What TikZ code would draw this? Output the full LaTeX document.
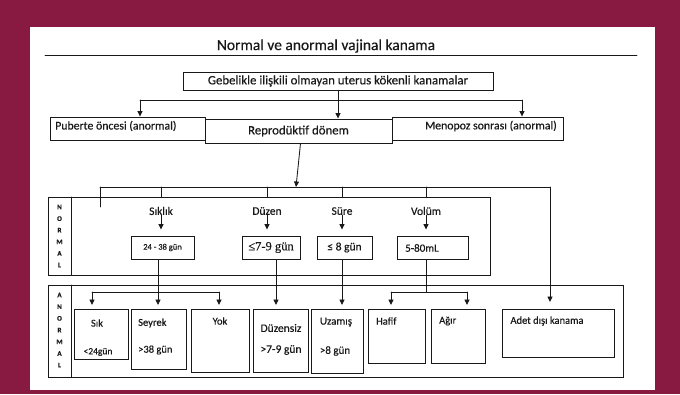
\documentclass[tikz,border=0pt]{standalone}
\usepackage{fontspec}
\setmainfont{Carlito}[FakeBold=0.35]
\newfontfamily\serifrm{Liberation Serif}[FakeBold=0.3]
\usetikzlibrary{arrows.meta,calc}

\definecolor{maroon}{RGB}{136,26,66}
\definecolor{ink}{RGB}{25,25,25}

\begin{document}
\begin{tikzpicture}[x=1pt, y=-1pt, line cap=round,
    box/.style={draw=ink, line width=0.9pt, inner sep=0pt, text=ink},
    txt/.style={text=ink, inner sep=0pt, font=\fontsize{10.5}{12}\selectfont},
    ln/.style={draw=ink, line width=0.85pt},
    arr/.style={ln, -{Triangle[length=5.5pt,width=5pt]}},
    vlet/.style={text=ink, inner sep=0pt, font=\fontsize{7}{8}\selectfont\bfseries}]

  \useasboundingbox (0,0) rectangle (680,394);

  % Frame
  \fill[maroon] (0,0) rectangle (680,394);
  \fill[white] (30,27) rectangle (655,390);

  % Title
  \node[txt, font=\fontsize{15.5}{17}\selectfont] (title) at (326,46) {Normal ve anormal vajinal kanama};
  \draw[ln] (45,55) -- (637,55);

  % Top box and the three periods
  \node[box, minimum width=310pt, minimum height=18pt, font=\fontsize{12.8}{14}\selectfont] (gebe) at (338,81) {Gebelikle ilişkili olmayan uterus kökenli kanamalar};
  \node[box, minimum width=155pt, minimum height=23pt] (pub) at (127.5,128.5) {};
  \node[txt, anchor=west, font=\fontsize{11.8}{13}\selectfont] (pubT) at (55,126) {Puberte öncesi (anormal)};
  \node[box, minimum width=171pt, minimum height=23pt] (meno) at (477.5,128.5) {};
  \node[txt, anchor=east, font=\fontsize{11.8}{13}\selectfont] (menoT) at (557,126) {Menopoz sonrası (anormal)};
  \node[box, fill=white, minimum width=187pt, minimum height=24pt, font=\fontsize{12.8}{14}\selectfont] (repro) at (298.5,131) {Reprodüktif dönem};

  \coordinate (jL) at (140,100);
  \coordinate (jR) at (522,100);
  \draw[ln] (jL) -- (jR);
  \draw[arr] (gebe.south) -- (gebe.south |- repro.north);
  \draw[arr] (jL) -- (jL |- pub.north);
  \draw[arr] (jR) -- (jR |- meno.north);

  % Normal
  \node[box, minimum width=442pt, minimum height=78pt] (normal) at (269,236) {};
  \draw[ln] (71,197) -- (71,275);
  \foreach \l [count=\i] in {N,O,R,M,A,L}
    \node[vlet] (nl\i) at (59.5,{207+11.6*(\i-1)}) {\l};

  \coordinate (nTop) at (296,187);
  \coordinate (nL) at (100,187);
  \coordinate (nR) at (550,187);
  \draw[arr] ([xshift=2pt]repro.south) -- (nTop);
  \draw[ln] (nL) -- (nR);
  \draw[ln] (nL) -- ++(0,20);

  \node[txt, font=\fontsize{11.5}{13}\selectfont] (sik) at (161,211) {Sıklık};
  \node[txt, font=\fontsize{11.5}{13}\selectfont] (duz) at (267,211) {Düzen};
  \node[txt, font=\fontsize{11.5}{13}\selectfont] (sur) at (342,211) {Süre};
  \node[txt, font=\fontsize{11.5}{13}\selectfont] (vol) at (426,211) {Volüm};
  \foreach \n in {sik,duz,sur,vol}
    \draw[ln] (\n |- nL) -- (\n |- normal.north);

  \node[box, minimum width=63pt, minimum height=23pt, font=\fontsize{8.5}{10}\selectfont] (n1) at (162.5,247.5) {24 - 38 gün};
  \node[box, minimum width=58pt, minimum height=23pt, font=\fontsize{12.5}{14}\serifrm] (n2) at (271,247.5) {≤7-9 gün};
  \node[box, minimum width=55pt, minimum height=23pt, font=\fontsize{11.5}{13}\selectfont] (n3) at (344.5,247.5) {≤ 8 gün};
  \node[box, minimum width=71pt, minimum height=23pt] (n4) at (432.5,247.5) {};
  \node[txt, anchor=west, font=\fontsize{11}{13}\selectfont] (n4T) at (405,248) {5-80mL};
  \foreach \n/\b in {sik/n1,duz/n2,sur/n3,vol/n4}
    \draw[arr] (\n.south) -- ($(\n.south |- \b.north)+(0,-6)$);

  % Anormal
  \node[box, minimum width=575pt, minimum height=92pt] (anormal) at (335.5,331) {};
  \draw[ln] (71,285) -- (71,377);
  \foreach \l [count=\i] in {A,N,O,R,M,A,L}
    \node[vlet] (al\i) at (59.5,{295+11.7*(\i-1)}) {\l};

  \node[box, minimum width=54pt, minimum height=50pt] (sk) at (101,334) {};
  \node[box, minimum width=55pt, minimum height=60pt] (sey) at (158.5,339) {};
  \node[box, minimum width=58pt, minimum height=63pt] (yok) at (220,340.5) {};
  \node[box, minimum width=55pt, minimum height=63pt] (dzs) at (280.5,340.5) {};
  \node[box, minimum width=52pt, minimum height=64pt] (uzm) at (337,341) {};
  \node[box, minimum width=57pt, minimum height=54pt] (haf) at (396.5,336) {};
  \node[box, minimum width=54pt, minimum height=54pt] (agr) at (458,336) {};
  \node[box, minimum width=112pt, minimum height=48pt] (adet) at (558,333) {};

  \node[txt] (skT) at (97,323) {Sık};
  \node[txt, font=\fontsize{9.5}{10}\selectfont] (skU) at (98,352) {<24gün};
  \node[txt, anchor=west] (seyT) at (138,323) {Seyrek};
  \node[txt, anchor=west] (seyU) at (138,350) {>38 gün};
  \node[txt] (yokT) at (220,321) {Yok};
  \node[txt, font=\fontsize{11.5}{13}\selectfont] (dzsT) at (281,328) {Düzensiz};
  \node[txt, font=\fontsize{11.5}{13}\selectfont] (dzsU) at (281,350) {>7-9 gün};
  \node[txt, font=\fontsize{11}{13}\selectfont] (uzmT) at (336,322) {Uzamış};
  \node[txt, font=\fontsize{11}{13}\selectfont] (uzmU) at (335,351) {>8 gün};
  \node[txt, anchor=west] (hafT) at (376,321) {Hafif};
  \node[txt, anchor=west] (agrT) at (439,321) {Ağır};
  \node[txt] (adetT) at (547,321) {Adet dışı kanama};

  % Arrows into the anormal boxes
  \coordinate (tSk) at (92,305);
  \coordinate (tSey) at (158,305);
  \coordinate (tYok) at (219,305);
  \coordinate (tDzs) at (276,305);
  \coordinate (tUzm) at (342,305);
  \coordinate (tHaf) at (391,305);
  \coordinate (tAgr) at (467,305);
  \coordinate (tAdet) at (550,302);
  \coordinate (jA) at (92,292);
  \coordinate (jB) at (219,292);
  \coordinate (jV) at (426,292);
  \coordinate (jC) at (391,292);
  \coordinate (jD) at (467,292);

  \draw[arr] (tSey |- n1.south) -- (tSey);
  \draw[ln] (jA) -- (jB);
  \draw[arr] (jA) -- (tSk);
  \draw[arr] (jB) -- (tYok);
  \draw[arr] (tDzs |- n2.south) -- (tDzs);
  \draw[arr] (tUzm |- n3.south) -- (tUzm);
  \draw[ln] (jV |- n4.south) -- (jV);
  \draw[ln] (jC) -- (jD);
  \draw[arr] (jC) -- (tHaf);
  \draw[arr] (jD) -- (tAgr);
  \draw[arr] (nR) -- (tAdet);
\end{tikzpicture}
\end{document}
